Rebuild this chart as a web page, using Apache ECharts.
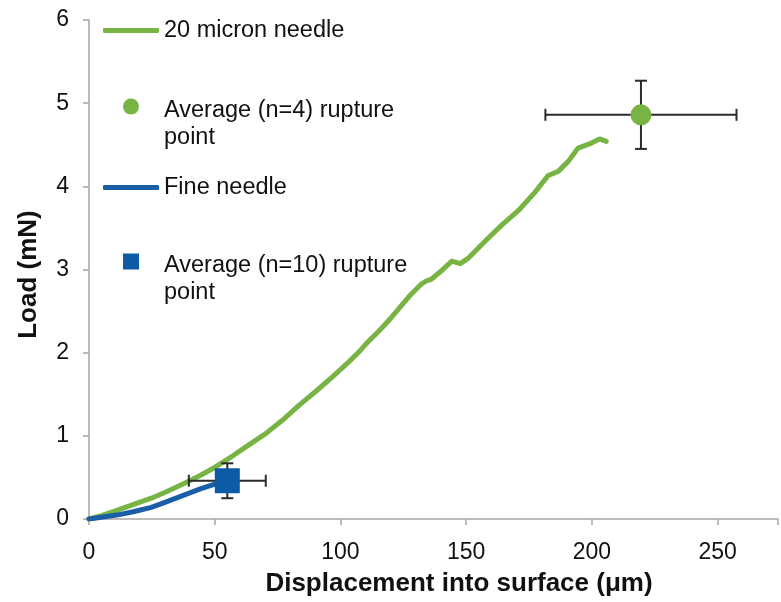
<!DOCTYPE html>
<html>
<head>
<meta charset="utf-8">
<script src="https://cdn.jsdelivr.net/npm/echarts@6/dist/echarts.min.js"></script>
<style>
  html, body { margin: 0; padding: 0; background: #fff; }
  #chart { width: 781px; height: 602px; }
</style>
</head>
<body>
<div id="chart"></div>
<script>
// Load–displacement curves (displacement in µm, load in mN)
var micron20Curve = [
  [0, 0], [5, 0.04], [11.6, 0.11], [18, 0.18], [24.8, 0.25], [31, 0.33], [38, 0.43],
  [44, 0.52], [50, 0.62], [57.2, 0.76], [63, 0.88], [70.4, 1.03], [77, 1.19],
  [83.6, 1.37], [90, 1.53], [96.8, 1.71], [103, 1.88], [107.4, 2.01], [110, 2.10],
  [115.3, 2.26], [119, 2.38], [123.2, 2.53], [128, 2.70], [132, 2.82], [134, 2.86],
  [136, 2.88], [140, 2.98], [144.3, 3.10], [147.6, 3.07], [151, 3.14], [157.5, 3.34],
  [164, 3.53], [170.8, 3.71], [177.4, 3.93], [182.6, 4.13], [186.6, 4.18],
  [190.6, 4.30], [194.5, 4.46], [199.8, 4.52], [203.1, 4.57], [205.7, 4.54]
];
var fineCurve = [
  [0, 0], [5, 0.02], [11.6, 0.05], [18, 0.09], [24.8, 0.14], [31, 0.21],
  [38, 0.29], [44, 0.36], [50, 0.42], [54, 0.46]
];

// Average rupture points: [x, y, xError, yError]
var rupture20 = [219.5, 4.86, 38, 0.41];
var ruptureFine = [55, 0.46, 15.3, 0.21];

var xTicks = [0, 50, 100, 150, 200, 250];
var yTicks = [0, 1, 2, 3, 4, 5, 6];

var names = {
  micron20: '20 micron needle',
  avg20: 'Average (n=4) rupture\npoint',
  fine: 'Fine needle',
  avgFine: 'Average (n=10) rupture\npoint'
};

var GREEN = '#77b443';
var BLUE = '#1a5ea8';
var BLUE_MARK = '#0d5aa7';
var FONT = '"Liberation Sans", Arial, Helvetica, sans-serif';

// Marker icons centred in a 56x16 legend slot (the leading moves set the slot bounds)
var ICON_DOT = 'path://M0,0M56,16M36,8A8,8,0,1,1,20,8A8,8,0,1,1,36,8Z';
var ICON_SQUARE = 'path://M0,0M56,16M20,0L36,0L36,16L20,16Z';

function errorBarItem(params, api) {
  var x = api.value(0), y = api.value(1), dx = api.value(2), dy = api.value(3);
  var left = api.coord([x - dx, y]);
  var right = api.coord([x + dx, y]);
  var top = api.coord([x, y + dy]);
  var bottom = api.coord([x, y - dy]);
  var cap = 6;
  var style = { stroke: '#2b2b2b', lineWidth: 2, fill: null };
  return {
    type: 'group',
    children: [
      { type: 'line', shape: { x1: left[0], y1: left[1], x2: right[0], y2: right[1] }, style: style },
      { type: 'line', shape: { x1: left[0], y1: left[1] - cap, x2: left[0], y2: left[1] + cap }, style: style },
      { type: 'line', shape: { x1: right[0], y1: right[1] - cap, x2: right[0], y2: right[1] + cap }, style: style },
      { type: 'line', shape: { x1: top[0], y1: top[1], x2: bottom[0], y2: bottom[1] }, style: style },
      { type: 'line', shape: { x1: top[0] - cap, y1: top[1], x2: top[0] + cap, y2: top[1] }, style: style },
      { type: 'line', shape: { x1: bottom[0] - cap, y1: bottom[1], x2: bottom[0] + cap, y2: bottom[1] }, style: style }
    ]
  };
}

// One legend block per entry; two-line entries get a spacer line on top so the
// marker sits beside the first text line.
function legendBlock(name, icon, top, h, twoLine) {
  return {
    data: [{ name: name, icon: icon }],
    left: 103,
    top: top,
    padding: 0,
    itemWidth: 56,
    itemHeight: h,
    selectedMode: false,
    formatter: function (n) {
      if (!twoLine) return '{t|' + n + '}';
      var parts = n.split('\n');
      return '{gap| }\n{t|' + parts[0] + '}\n{t|' + parts[1] + '}';
    },
    textStyle: {
      fontFamily: FONT, fontSize: 23.5, color: '#111',
      rich: {
        t: { fontFamily: FONT, fontSize: 23.5, color: '#111', lineHeight: 27 },
        gap: { fontSize: 10, lineHeight: 35 }
      }
    }
  };
}

var chart = echarts.init(document.getElementById('chart'), null, { renderer: 'canvas' });

chart.setOption({
  animation: false,
  backgroundColor: '#fff',
  grid: { left: 89, right: 0, top: 20, bottom: 83, containLabel: false },
  legend: [
    legendBlock(names.micron20, 'roundRect', 18.5, 5, false),
    legendBlock(names.avg20, ICON_DOT, 74.5, 16, true),
    legendBlock(names.fine, 'roundRect', 175.5, 5, false),
    legendBlock(names.avgFine, ICON_SQUARE, 229.5, 16, true)
  ],
  xAxis: {
    type: 'value',
    min: 0,
    max: 274,
    interval: 50,
    name: 'Displacement into surface (\u03bcm)',
    nameLocation: 'middle',
    nameGap: 52,
    nameTextStyle: { fontFamily: FONT, fontSize: 26, fontWeight: 'bold', color: '#111', padding: [0, 0, 0, 51] },
    splitLine: { show: false },
    axisLine: { lineStyle: { color: '#a6a6a6', width: 1.5 } },
    axisTick: { length: 6, lineStyle: { color: '#a6a6a6', width: 1.5 } },
    axisLabel: {
      margin: 22,
      fontFamily: FONT, fontSize: 23, color: '#111',
      formatter: function (v) { return xTicks.indexOf(v) >= 0 ? String(v) : ''; }
    }
  },
  yAxis: {
    type: 'value',
    min: 0,
    max: 6,
    interval: 1,
    name: 'Load (mN)',
    nameLocation: 'middle',
    nameGap: 47,
    nameTextStyle: { fontFamily: FONT, fontSize: 26, fontWeight: 'bold', color: '#111', padding: [0, 10, 0, 0] },
    splitLine: { show: false },
    axisLine: { show: true, lineStyle: { color: '#a6a6a6', width: 1.5 } },
    axisTick: { show: true, length: 6, lineStyle: { color: '#a6a6a6', width: 1.5 } },
    axisLabel: {
      margin: 20,
      fontFamily: FONT, fontSize: 23, color: '#111',
      formatter: function (v) { return yTicks.indexOf(v) >= 0 ? String(v) : ''; }
    }
  },
  series: [
    {
      name: names.micron20,
      type: 'line',
      data: micron20Curve,
      showSymbol: false,
      symbol: 'none',
      color: GREEN,
      lineStyle: { color: GREEN, width: 5, cap: 'round', join: 'round' },
      z: 2
    },
    {
      name: names.fine,
      type: 'line',
      data: fineCurve,
      showSymbol: false,
      symbol: 'none',
      color: BLUE,
      lineStyle: { color: BLUE, width: 5, cap: 'round', join: 'round' },
      z: 3
    },
    {
      name: 'errors',
      type: 'custom',
      renderItem: errorBarItem,
      data: [rupture20, ruptureFine],
      encode: { x: 0, y: 1 },
      z: 4
    },
    {
      name: names.avg20,
      type: 'scatter',
      data: [[rupture20[0], rupture20[1]]],
      symbol: 'circle',
      symbolSize: 21,
      color: GREEN,
      itemStyle: { color: GREEN, opacity: 1 },
      z: 5
    },
    {
      name: names.avgFine,
      type: 'scatter',
      data: [[ruptureFine[0], ruptureFine[1]]],
      symbol: 'rect',
      symbolSize: 25,
      color: BLUE_MARK,
      itemStyle: { color: BLUE_MARK, opacity: 1 },
      z: 5
    }
  ]
});
</script>
</body>
</html>
